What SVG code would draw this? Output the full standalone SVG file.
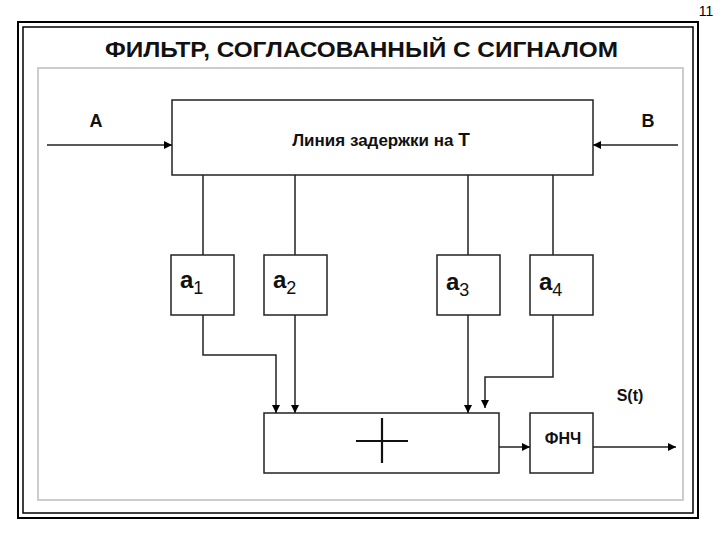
<svg xmlns="http://www.w3.org/2000/svg" width="720" height="540" viewBox="0 0 720 540">
<defs>
<marker id="ar" viewBox="0 0 10 10" refX="10" refY="5" markerWidth="8" markerHeight="8" markerUnits="userSpaceOnUse" orient="auto"><path d="M0,0 L10,5 L0,10 z" fill="#000"/></marker>
<style>
.b{fill:#fff;stroke:#222;stroke-width:1.5}
.c{fill:none;stroke:#222;stroke-width:1.5}
.t{font-family:"Liberation Sans",Arial,sans-serif;font-weight:bold;fill:#111}
</style>
</defs>
<rect width="720" height="540" fill="#fff"/>
<text x="706" y="16" font-family="Liberation Sans,Arial,sans-serif" font-size="14" text-anchor="middle">11</text>
<rect x="18" y="22" width="680" height="496" fill="none" stroke="#000" stroke-width="2"/>
<rect x="23" y="27" width="670" height="486" fill="none" stroke="#000" stroke-width="1.5"/>
<text class="t" x="105" y="57" font-size="22" textLength="513" lengthAdjust="spacingAndGlyphs">ФИЛЬТР, СОГЛАСОВАННЫЙ С СИГНАЛОМ</text>
<rect x="38" y="68" width="645" height="432" fill="none" stroke="#ccc" stroke-width="2"/>
<g id="delay"><rect class="b" x="172" y="100" width="421" height="75"/><text class="t" x="381" y="146" font-size="17" text-anchor="middle">Линия задержки на <tspan font-size="19">Т</tspan></text></g>
<text class="t" x="96" y="127" font-size="18" text-anchor="middle">А</text>
<text class="t" x="648" y="127" font-size="18" text-anchor="middle">В</text>
<g id="a1"><rect class="b" x="171" y="255" width="63" height="60"/><text class="t" x="180" y="288" font-size="24">a<tspan font-size="18" font-weight="normal" dy="6">1</tspan></text></g>
<g id="a2"><rect class="b" x="264" y="255" width="63" height="60"/><text class="t" x="273" y="288" font-size="24">a<tspan font-size="18" font-weight="normal" dy="6">2</tspan></text></g>
<g id="a3"><rect class="b" x="437" y="255" width="63" height="60"/><text class="t" x="446" y="290" font-size="24">a<tspan font-size="18" font-weight="normal" dy="6">3</tspan></text></g>
<g id="a4"><rect class="b" x="530" y="255" width="63" height="60"/><text class="t" x="539" y="290" font-size="24">a<tspan font-size="18" font-weight="normal" dy="6">4</tspan></text></g>
<g id="sum"><rect class="b" x="264" y="413" width="235" height="60"/><path d="M356,441 H408 M382,418 V463" stroke="#111" stroke-width="2.2" fill="none"/></g>
<g id="lpf"><rect class="b" x="530" y="413" width="63" height="60"/><text class="t" x="563" y="444" font-size="16" text-anchor="middle">ФНЧ</text></g>
<text class="t" x="630" y="401" font-size="16" text-anchor="middle">S(t)</text>
<g id="connectors" class="c">
<path d="M47,145 H172" marker-end="url(#ar)"/>
<path d="M678,145 H593" marker-end="url(#ar)"/>
<path d="M203,175 V255 M295,175 V255 M468,175 V255 M553,175 V255"/>
<path d="M203,315 V355 H276 V413" marker-end="url(#ar)"/>
<path d="M295,315 V413" marker-end="url(#ar)"/>
<path d="M468,315 V413" marker-end="url(#ar)"/>
<path d="M553,315 V377 H485 V408" marker-end="url(#ar)"/>
<path d="M499,447 H530" marker-end="url(#ar)"/>
<path d="M593,447 H676" marker-end="url(#ar)"/>
</g>
</svg>
